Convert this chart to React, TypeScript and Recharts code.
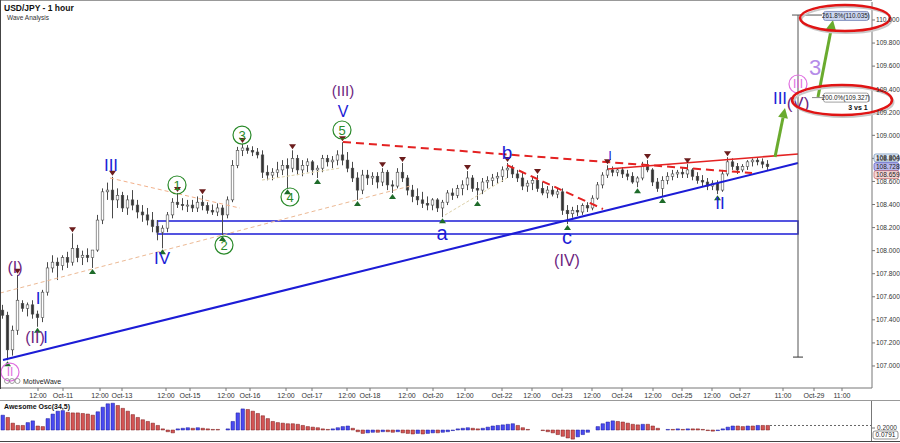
import React from 'react';
import {
  ComposedChart,
  BarChart,
  Bar,
  XAxis,
  YAxis,
  Cell,
  ReferenceLine,
  ReferenceDot,
  ReferenceArea,
} from 'recharts';

const FONT = '"Liberation Sans", Arial, sans-serif';

// one row every 2 hours: [open, high, low, close]
const candles: number[][] = [
  [107.484, 107.53, 107.41, 107.44], [107.44, 107.47, 107.05, 107.14], [107.14, 107.35, 107.09, 107.31],
  [107.31, 107.79, 107.27, 107.57], [107.54, 107.57, 107.47, 107.5], [107.5, 107.55, 107.43, 107.53],
  [107.53, 107.57, 107.41, 107.45], [107.45, 107.48, 107.34, 107.42], [107.42, 107.66, 107.38, 107.64],
  [107.64, 107.9, 107.61, 107.85], [107.85, 107.96, 107.81, 107.9], [107.9, 107.94, 107.745, 107.87],
  [107.87, 107.96, 107.83, 107.94], [107.94, 107.99, 107.85, 107.9], [107.9, 108.15, 107.87, 108.02],
  [108.02, 108.05, 107.9, 107.94], [107.94, 108.0, 107.875, 107.96], [107.96, 108.02, 107.9, 107.94],
  [107.94, 107.99, 107.85, 108.005], [108.005, 108.31, 107.99, 108.265], [108.265, 108.54, 108.23, 108.51],
  [108.51, 108.59, 108.44, 108.525], [108.525, 108.64, 108.28, 108.44], [108.44, 108.54, 108.37, 108.48],
  [108.48, 108.51, 108.335, 108.37], [108.37, 108.48, 108.31, 108.44], [108.44, 108.525, 108.35, 108.395],
  [108.395, 108.44, 108.28, 108.335], [108.335, 108.395, 108.25, 108.31], [108.31, 108.37, 108.22, 108.265],
  [108.265, 108.335, 108.16, 108.21], [108.21, 108.265, 108.09, 108.16], [108.16, 108.22, 108.02, 108.195],
  [108.195, 108.335, 108.16, 108.31], [108.31, 108.455, 108.28, 108.42], [108.42, 108.5, 108.37, 108.4],
  [108.4, 108.455, 108.35, 108.39], [108.39, 108.44, 108.335, 108.395], [108.395, 108.44, 108.335, 108.37],
  [108.37, 108.47, 108.335, 108.42], [108.42, 108.48, 108.35, 108.39], [108.39, 108.42, 108.32, 108.35],
  [108.35, 108.4, 108.31, 108.335], [108.335, 108.41, 108.3, 108.37], [108.37, 108.395, 108.135, 108.31],
  [108.31, 108.47, 108.28, 108.44], [108.44, 108.785, 108.42, 108.74], [108.74, 108.9, 108.715, 108.87],
  [108.87, 108.925, 108.82, 108.89], [108.89, 108.915, 108.84, 108.87], [108.87, 108.905, 108.82, 108.855],
  [108.855, 108.89, 108.8, 108.83], [108.83, 108.87, 108.63, 108.68], [108.68, 108.74, 108.61, 108.655],
  [108.655, 108.715, 108.61, 108.68], [108.68, 108.77, 108.63, 108.7], [108.7, 108.785, 108.655, 108.74],
  [108.74, 108.8, 108.54, 108.715], [108.715, 108.87, 108.68, 108.8], [108.8, 108.83, 108.655, 108.7],
  [108.7, 108.785, 108.645, 108.74], [108.74, 108.8, 108.68, 108.77], [108.77, 108.785, 108.655, 108.7],
  [108.7, 108.74, 108.63, 108.715], [108.715, 108.83, 108.68, 108.8], [108.8, 108.83, 108.73, 108.77],
  [108.77, 108.82, 108.715, 108.785], [108.785, 108.87, 108.74, 108.83], [108.83, 108.94, 108.74, 108.785],
  [108.785, 108.855, 108.68, 108.715], [108.715, 108.77, 108.595, 108.63], [108.63, 108.68, 108.44, 108.525],
  [108.525, 108.7, 108.49, 108.655], [108.655, 108.7, 108.57, 108.63], [108.63, 108.68, 108.57, 108.645],
  [108.645, 108.68, 108.54, 108.595], [108.595, 108.715, 108.56, 108.68], [108.68, 108.7, 108.525, 108.57],
  [108.57, 108.61, 108.5, 108.56], [108.56, 108.715, 108.54, 108.68], [108.68, 108.76, 108.595, 108.63],
  [108.63, 108.655, 108.48, 108.525], [108.525, 108.57, 108.42, 108.47], [108.47, 108.54, 108.395, 108.44],
  [108.44, 108.51, 108.37, 108.41], [108.41, 108.47, 108.35, 108.395], [108.395, 108.455, 108.35, 108.44],
  [108.44, 108.455, 108.335, 108.37], [108.37, 108.44, 108.29, 108.42], [108.42, 108.525, 108.395, 108.5],
  [108.5, 108.54, 108.44, 108.48], [108.48, 108.57, 108.455, 108.54], [108.54, 108.61, 108.48, 108.57],
  [108.57, 108.69, 108.525, 108.63], [108.63, 108.655, 108.51, 108.54], [108.54, 108.595, 108.44, 108.525],
  [108.525, 108.63, 108.49, 108.595], [108.595, 108.645, 108.54, 108.61], [108.61, 108.665, 108.56, 108.63],
  [108.63, 108.68, 108.58, 108.645], [108.645, 108.73, 108.595, 108.7], [108.7, 108.76, 108.63, 108.715],
  [108.715, 108.74, 108.63, 108.665], [108.665, 108.7, 108.595, 108.63], [108.63, 108.68, 108.525, 108.56],
  [108.56, 108.61, 108.51, 108.585], [108.585, 108.645, 108.525, 108.61], [108.61, 108.655, 108.51, 108.54],
  [108.54, 108.595, 108.48, 108.5], [108.5, 108.56, 108.455, 108.525], [108.525, 108.56, 108.47, 108.49],
  [108.49, 108.54, 108.455, 108.51], [108.51, 108.54, 108.31, 108.35], [108.35, 108.395, 108.23, 108.32],
  [108.32, 108.38, 108.285, 108.35], [108.35, 108.395, 108.3, 108.335], [108.335, 108.41, 108.31, 108.39],
  [108.39, 108.42, 108.335, 108.37], [108.37, 108.48, 108.35, 108.455], [108.455, 108.595, 108.44, 108.57],
  [108.57, 108.68, 108.54, 108.655], [108.655, 108.74, 108.63, 108.7], [108.7, 108.73, 108.645, 108.68],
  [108.68, 108.715, 108.645, 108.7], [108.7, 108.725, 108.63, 108.665], [108.665, 108.7, 108.61, 108.645],
  [108.645, 108.68, 108.58, 108.595], [108.595, 108.645, 108.55, 108.63], [108.63, 108.77, 108.61, 108.73],
  [108.73, 108.785, 108.68, 108.7], [108.7, 108.715, 108.56, 108.595], [108.595, 108.63, 108.51, 108.54],
  [108.54, 108.645, 108.465, 108.61], [108.61, 108.68, 108.575, 108.645], [108.645, 108.7, 108.61, 108.665],
  [108.665, 108.7, 108.63, 108.68], [108.68, 108.715, 108.63, 108.665], [108.665, 108.75, 108.63, 108.7],
  [108.7, 108.715, 108.61, 108.645], [108.645, 108.68, 108.58, 108.61], [108.61, 108.655, 108.56, 108.595],
  [108.595, 108.63, 108.525, 108.56], [108.56, 108.61, 108.525, 108.585], [108.585, 108.61, 108.49, 108.525],
  [108.525, 108.7, 108.51, 108.665], [108.665, 108.81, 108.645, 108.77], [108.77, 108.8, 108.7, 108.73],
  [108.73, 108.76, 108.665, 108.7], [108.7, 108.75, 108.68, 108.73], [108.73, 108.785, 108.7, 108.77],
  [108.77, 108.8, 108.73, 108.785], [108.785, 108.81, 108.74, 108.77], [108.77, 108.8, 108.715, 108.75],
  [108.75, 108.785, 108.7, 108.728],
];

// Awesome Oscillator (34,5), same bars
const awesomeOsc = [
  0.26, 0.22, 0.12, 0.08, 0.08, 0.13, 0.16, 0.07, 0.06, 0.2, 0.28, 0.33, 0.34, 0.31, 0.3, 0.3,
  0.29, 0.28, 0.26, 0.32, 0.4, 0.46, 0.47, 0.43, 0.38, 0.33, 0.27, 0.22, 0.18, 0.15, 0.12, 0.08,
  0.02, -0.03, -0.05, 0.02, 0.03, 0.04, 0.03, 0.04, 0.03, 0.02, 0.01, 0.01, 0.0, 0.02, 0.15, 0.3,
  0.37, 0.36, 0.33, 0.29, 0.25, 0.2, 0.15, 0.13, 0.12, 0.11, 0.11, 0.1, 0.08, 0.06, 0.05, 0.04,
  0.02, 0.01, 0.02, 0.04, 0.06, 0.07, 0.03, -0.03, -0.06, -0.05, -0.04, -0.04, -0.03, -0.03, -0.04, -0.03,
  -0.05, -0.06, -0.07, -0.06, -0.07, -0.06, -0.05, -0.05, -0.04, -0.03, -0.01, 0.02, 0.03, 0.04, 0.03, 0.02,
  0.03, 0.05, 0.07, 0.08, 0.09, 0.1, 0.11, 0.08, 0.04, 0.01, 0.0, 0.0, -0.01, -0.03, -0.05, -0.08,
  -0.11, -0.14, -0.16, -0.12, -0.08, -0.04, 0.0, 0.06, 0.11, 0.14, 0.16, 0.15, 0.14, 0.12, 0.1, 0.09,
  0.1, 0.1, 0.07, 0.03, 0.0, 0.01, 0.01, 0.02, 0.01, 0.02, 0.02, 0.02, 0.01, -0.01, -0.02, -0.01,
  0.02, 0.05, 0.07, 0.07, 0.06, 0.07, 0.07, 0.08, 0.08, 0.08,
];

const timeTickPos = [
  7.6, 12.6, 20, 24.4, 33.2, 38, 45.2, 50, 57.2, 62.4, 69.4, 74, 81.4, 86.6, 93, 100.4, 106.4,
  112.4, 118.4, 124.4, 130.6, 136.4, 142.4, 148, 156.6, 162.8, 168.4,
];
const timeTickLabels = [
  '12:00', 'Oct-11', '12:00', 'Oct-13', '12:00', 'Oct-15', '12:00', 'Oct-16', '12:00', 'Oct-17',
  '12:00', 'Oct-18', '12:00', 'Oct-20', '12:00', 'Oct-22', '12:00', 'Oct-23', '12:00', 'Oct-24',
  '12:00', 'Oct-25', '12:00', 'Oct-27', '11:00', 'Oct-29', '11:00',
];
const priceTicks = [
  107.0, 107.2, 107.4, 107.6, 107.8, 108.0, 108.2, 108.4, 108.6, 108.8, 109.0, 109.2, 109.4, 109.6, 109.8, 110.0,
];

const swingHighs = [3, 14, 22, 35, 40, 48, 58, 68, 76, 80, 93, 101, 107, 121, 129, 137, 145];
const swingLows = [1, 7, 18, 32, 44, 57, 63, 71, 78, 88, 95, 113, 127, 132, 143];

const BLUE = '#1c1cd6';
const PURPLE = '#6e1f80';
const GREEN = '#2a8a2a';
const PINK = '#e070e0';

type WaveLabel = { x: number; y: number; text: string; color: string; size: number; ring?: boolean };
const waveLabels: WaveLabel[] = [
  { x: 3, y: 107.858, text: '(I)', color: PURPLE, size: 16 },
  { x: 2, y: 106.947, text: 'II', color: PINK, size: 12, ring: true },
  { x: 7.6, y: 107.589, text: 'I', color: BLUE, size: 17 },
  { x: 7, y: 107.251, text: '(II)', color: PURPLE, size: 16 },
  { x: 9.1, y: 107.251, text: 'I', color: BLUE, size: 16 },
  { x: 22.2, y: 108.742, text: 'III', color: BLUE, size: 17 },
  { x: 35.4, y: 108.569, text: '1', color: GREEN, size: 13, ring: true },
  { x: 32.4, y: 107.936, text: 'IV', color: BLUE, size: 17 },
  { x: 44.8, y: 108.048, text: '2', color: GREEN, size: 13, ring: true },
  { x: 48.4, y: 109.002, text: '3', color: GREEN, size: 13, ring: true },
  { x: 58, y: 108.465, text: '4', color: GREEN, size: 13, ring: true },
  { x: 68.6, y: 109.385, text: '(III)', color: PURPLE, size: 15 },
  { x: 68.6, y: 109.205, text: 'V', color: BLUE, size: 16 },
  { x: 68.4, y: 109.046, text: '5', color: GREEN, size: 13, ring: true },
  { x: 101.4, y: 108.855, text: 'b', color: BLUE, size: 19 },
  { x: 88.4, y: 108.152, text: 'a', color: BLUE, size: 20 },
  { x: 113.4, y: 108.118, text: 'c', color: BLUE, size: 20 },
  { x: 113.4, y: 107.918, text: '(IV)', color: PURPLE, size: 16 },
  { x: 122, y: 108.829, text: 'I', color: BLUE, size: 13 },
  { x: 144, y: 108.413, text: 'II', color: BLUE, size: 17 },
  { x: 156, y: 109.323, text: 'III', color: BLUE, size: 17 },
  { x: 159.6, y: 109.28, text: '(V)', color: PURPLE, size: 17 },
  { x: 159.6, y: 109.445, text: 'III', color: PINK, size: 12, ring: true },
  { x: 163, y: 109.584, text: '3', color: '#b58ce8', size: 22 },
];

type Seg = { x1: number; y1: number; x2: number; y2: number; color: string; width: number; dash?: string };
const trendLines: Seg[] = [
  { x1: 0, y1: 107.632, x2: 82, y2: 108.56, color: '#ecb994', width: 1, dash: '4 3' },
  { x1: 22, y1: 108.63, x2: 48, y2: 108.369, color: '#f2b08a', width: 1, dash: '4 3' },
  { x1: 52.4, y1: 108.612, x2: 68, y2: 108.716, color: '#dcd0a8', width: 1, dash: '3 2' },
  { x1: 89, y1: 108.309, x2: 101.4, y2: 108.63, color: '#dcd0a8', width: 1, dash: '3 2' },
  { x1: 0.6, y1: 107.051, x2: 159.6, y2: 108.76, color: BLUE, width: 2 },
  { x1: 68.6, y1: 108.942, x2: 150.4, y2: 108.673, color: '#e42222', width: 2, dash: '8 5' },
  { x1: 101.4, y1: 108.742, x2: 120.6, y2: 108.361, color: '#e42222', width: 2, dash: '8 5' },
  { x1: 121.6, y1: 108.708, x2: 159.6, y2: 108.838, color: '#e42222', width: 1.6 },
  { x1: 159.6, y1: 110.043, x2: 159.6, y2: 107.077, color: '#555', width: 1 },
  { x1: 158.4, y1: 110.043, x2: 164.4, y2: 110.043, color: '#555', width: 1 },
  { x1: 158.6, y1: 107.077, x2: 160.6, y2: 107.077, color: '#333', width: 1 },
  { x1: 162.4, y1: 109.327, x2: 164.6, y2: 109.327, color: '#888', width: 1 },
];

const arrows = [
  { x1: 155, y1: 108.812, x2: 157, y2: 109.237 },
  { x1: 163.6, y1: 109.332, x2: 166.6, y2: 110.0 },
];

const ellipses = [
  { x: 169, y: 110.017, rx: 45, ry: 13 },
  { x: 168.4, y: 109.306, rx: 50, ry: 15 },
];

const fibBoxes = [
  { x: 169.2, y: 110.035, text: '261.8%(110.035)', fill: '#cad5f0', stroke: '#7283b6' },
  { x: 169.2, y: 109.327, text: '200.0%(109.327)', fill: '#ffffff', stroke: '#8a8a8a' },
];

const lastPrices = [
  { price: 108.804, fill: '#dfe9f5', stroke: '#6e8fb8' },
  { price: 108.728, fill: '#b9b9ec', stroke: '#4a4ac0' },
  { price: 108.659, fill: '#f4d6d6', stroke: '#c06060' },
];

const X_MAX = 174.4;
const Y_MIN = 106.809;
const Y_MAX = 110.156;

const candleData = candles.map(([o, h, l, c], i) => ({ t: i + 0.5, o, h, l, c, range: [l, h] }));
const oscData = awesomeOsc.map((v, i) => ({
  t: i + 0.5,
  v,
  up: i === 0 ? true : v > awesomeOsc[i - 1],
}));

const Candle = (props: any) => {
  const { x, y, width, height, payload } = props;
  const top = Math.min(y, y + height);
  const span = Math.abs(height);
  const { o, h, l, c } = payload;
  const k = h - l > 0 ? span / (h - l) : 0;
  const yo = top + (h - o) * k;
  const yc = top + (h - c) * k;
  const cx = x + width / 2;
  const bt = Math.min(yo, yc);
  const bh = Math.max(1, Math.abs(yo - yc));
  return (
    <g>
      <line x1={cx} x2={cx} y1={top} y2={top + span} stroke="#4a4a4a" strokeWidth={1} />
      <rect x={cx - 1.3} y={bt} width={2.6} height={bh} fill={c >= o ? '#fff' : '#333'} stroke="#4a4a4a" strokeWidth={0.6} />
    </g>
  );
};

const arrowShape = (p: any) => {
  const { x1, y1, x2, y2 } = p;
  const a = Math.atan2(y2 - y1, x2 - x1);
  const bx = x2 - 10 * Math.cos(a);
  const by = y2 - 10 * Math.sin(a);
  const px = -Math.sin(a) * 5;
  const py = Math.cos(a) * 5;
  return (
    <g>
      <line x1={x1} y1={y1} x2={bx} y2={by} stroke="#6aab2e" strokeWidth={3} />
      <polygon points={`${x2},${y2} ${bx + px},${by + py} ${bx - px},${by - py}`} fill="#6aab2e" />
    </g>
  );
};

const labelShape = (lab: WaveLabel) => (p: any) => (
  <g>
    {lab.ring && <circle cx={p.cx} cy={p.cy} r={9} fill="none" stroke={lab.color} strokeWidth={1.2} />}
    <text
      x={p.cx}
      y={p.cy}
      textAnchor="middle"
      dominantBaseline="central"
      fontSize={lab.size}
      fill={lab.color}
      fontFamily={FONT}
    >
      {lab.text}
    </text>
  </g>
);

const App = () => {
  return (
    <div style={{ position: 'absolute', left: 0, top: 0, width: 900, height: 443, background: '#fff', fontFamily: FONT }}>
      <ComposedChart width={900} height={400} data={candleData} margin={{ top: 2, right: 0, left: 0, bottom: 0 }}>
        <XAxis
          dataKey="t"
          type="number"
          domain={[0, X_MAX]}
          ticks={timeTickPos}
          interval={0}
          tickFormatter={(v: number, i: number) => timeTickLabels[i]}
          height={12}
          tickSize={3}
          tick={{ fontSize: 7, fill: '#333' }}
          stroke="#777"
          allowDataOverflow
        />
        <YAxis
          orientation="right"
          width={28}
          domain={[Y_MIN, Y_MAX]}
          ticks={priceTicks}
          interval={0}
          tickFormatter={(v: number) => v.toFixed(3)}
          tickSize={3}
          tickMargin={1}
          tick={{ fontSize: 6.6, fill: '#333', textAnchor: 'start' }}
          stroke="#777"
          allowDataOverflow
        />
        {trendLines.map((s, i) => (
          <ReferenceLine
            key={'tl' + i}
            segment={[{ x: s.x1, y: s.y1 }, { x: s.x2, y: s.y2 }]}
            stroke={s.color}
            strokeWidth={s.width}
            strokeDasharray={s.dash}
            ifOverflow="visible"
          />
        ))}
        <ReferenceArea
          x1={31.5}
          x2={159.6}
          y1={108.144}
          y2={108.257}
          fill="none"
          fillOpacity={0}
          stroke={BLUE}
          strokeWidth={1.5}
          ifOverflow="visible"
        />
        <Bar dataKey="range" barSize={3} shape={Candle} isAnimationActive={false} />
        {swingHighs.map((i) => (
          <ReferenceDot
            key={'sh' + i}
            x={i + 0.5}
            y={candles[i][1]}
            ifOverflow="visible"
            shape={(p: any) => (
              <polygon points={`${p.cx - 3.5},${p.cy - 6} ${p.cx + 3.5},${p.cy - 6} ${p.cx},${p.cy - 1}`} fill="#6b1c1c" />
            )}
          />
        ))}
        {swingLows.map((i) => (
          <ReferenceDot
            key={'sl' + i}
            x={i + 0.5}
            y={candles[i][2]}
            ifOverflow="visible"
            shape={(p: any) => (
              <polygon points={`${p.cx - 3.5},${p.cy + 6} ${p.cx + 3.5},${p.cy + 6} ${p.cx},${p.cy + 1}`} fill="#1e6b2a" />
            )}
          />
        ))}
        {arrows.map((a, i) => (
          <ReferenceLine
            key={'ar' + i}
            segment={[{ x: a.x1, y: a.y1 }, { x: a.x2, y: a.y2 }]}
            ifOverflow="visible"
            shape={arrowShape}
          />
        ))}
        {waveLabels.map((lab, i) => (
          <ReferenceDot key={'wl' + i} x={lab.x} y={lab.y} ifOverflow="visible" shape={labelShape(lab)} />
        ))}
        {fibBoxes.map((b, i) => (
          <ReferenceDot
            key={'fb' + i}
            x={b.x}
            y={b.y}
            ifOverflow="visible"
            shape={(p: any) => (
              <g>
                <rect x={p.cx - 22.5} y={p.cy - 4.5} width={45} height={9} rx={2} fill={b.fill} stroke={b.stroke} strokeWidth={0.8} />
                <text x={p.cx} y={p.cy + 2.3} textAnchor="middle" fontSize={6.3} fill="#222" fontFamily={FONT}>
                  {b.text}
                </text>
              </g>
            )}
          />
        ))}
        <ReferenceDot
          x={171.6}
          y={109.237}
          ifOverflow="visible"
          shape={(p: any) => (
            <text x={p.cx} y={p.cy + 2.5} textAnchor="middle" fontSize={7} fontWeight="bold" fill="#111" fontFamily={FONT}>
              3 vs 1
            </text>
          )}
        />
        {ellipses.map((e, i) => (
          <ReferenceDot
            key={'el' + i}
            x={e.x}
            y={e.y}
            ifOverflow="visible"
            shape={(p: any) => (
              <g>
                <ellipse cx={p.cx + 1.5} cy={p.cy + 2} rx={e.rx} ry={e.ry} fill="none" stroke="#c8c8c8" strokeWidth={2} />
                <ellipse cx={p.cx} cy={p.cy} rx={e.rx} ry={e.ry} fill="none" stroke="#e01414" strokeWidth={2.5} />
              </g>
            )}
          />
        ))}
        {lastPrices.map((lp, i) => (
          <ReferenceDot
            key={'lp' + i}
            x={X_MAX}
            y={lp.price}
            ifOverflow="visible"
            shape={(p: any) => (
              <g>
                <rect x={p.cx + 2} y={p.cy - 4} width={25} height={8} rx={2} fill={lp.fill} stroke={lp.stroke} strokeWidth={0.7} />
                <text x={p.cx + 4} y={p.cy + 2.3} fontSize={6.5} fill="#222" fontFamily={FONT}>
                  {lp.price.toFixed(3)}
                </text>
              </g>
            )}
          />
        ))}
      </ComposedChart>
      <div style={{ position: 'absolute', left: 0, top: 400 }}>
        <BarChart width={900} height={43} data={oscData} margin={{ top: 1, right: 28, left: 0, bottom: 2 }}>
          <XAxis dataKey="t" type="number" domain={[0, X_MAX]} hide allowDataOverflow />
          <YAxis domain={[-0.193, 0.509]} hide allowDataOverflow />
          <ReferenceLine
            segment={[{ x: 154, y: 0.0791 }, { x: X_MAX, y: 0.0791 }]}
            stroke="#666"
            strokeDasharray="2 2"
            ifOverflow="visible"
          />
          <Bar dataKey="v" barSize={3.5} isAnimationActive={false}>
            {oscData.map((d, i) => (
              <Cell key={i} fill={d.up ? '#4a4af0' : '#d25555'} stroke={d.up ? '#1e1e9a' : '#7a1e1e'} strokeWidth={0.5} />
            ))}
          </Bar>
        </BarChart>
      </div>
      <svg width={900} height={443} style={{ position: 'absolute', left: 0, top: 0, pointerEvents: 'none' }}>
        <line x1={0} y1={0.5} x2={872} y2={0.5} stroke="#999" />
        <line x1={0.5} y1={0} x2={0.5} y2={389} stroke="#444" />
        <line x1={0} y1={400.5} x2={900} y2={400.5} stroke="#999" />
        <line x1={0} y1={441.5} x2={900} y2={441.5} stroke="#444" />
        <line x1={871.5} y1={401} x2={871.5} y2={441} stroke="#777" />
        <text x={4} y={11} fontSize={8.5} fontWeight="bold" fill="#111" fontFamily={FONT}>
          USD/JPY - 1 hour
        </text>
        <text x={7} y={19.5} fontSize={6.5} fill="#333" fontFamily={FONT}>
          Wave Analysis
        </text>
        <circle cx={7} cy={381} r={2.5} fill="none" stroke="#888" strokeWidth={0.8} />
        <circle cx={12} cy={381} r={2.5} fill="none" stroke="#888" strokeWidth={0.8} />
        <circle cx={17.5} cy={381} r={2.5} fill="none" stroke="#888" strokeWidth={0.8} />
        <text x={23} y={383.5} fontSize={7} fill="#222" fontFamily={FONT}>
          MotiveWave
        </text>
        <text x={4} y={408.5} fontSize={7} fontWeight="bold" fill="#111" fontFamily={FONT}>
          Awesome Osc(34,5)
        </text>
        <line x1={872} y1={428} x2={875} y2={428} stroke="#777" />
        <text x={877} y={430} fontSize={6.5} fill="#333" fontFamily={FONT}>
          0.2000
        </text>
        <rect x={873} y={431} width={25} height={8} rx={2} fill="#fff" stroke="#666" strokeWidth={0.7} />
        <text x={875.5} y={437.3} fontSize={6.5} fill="#222" fontFamily={FONT}>
          0.0791
        </text>
      </svg>
    </div>
  );
};

export default App;
